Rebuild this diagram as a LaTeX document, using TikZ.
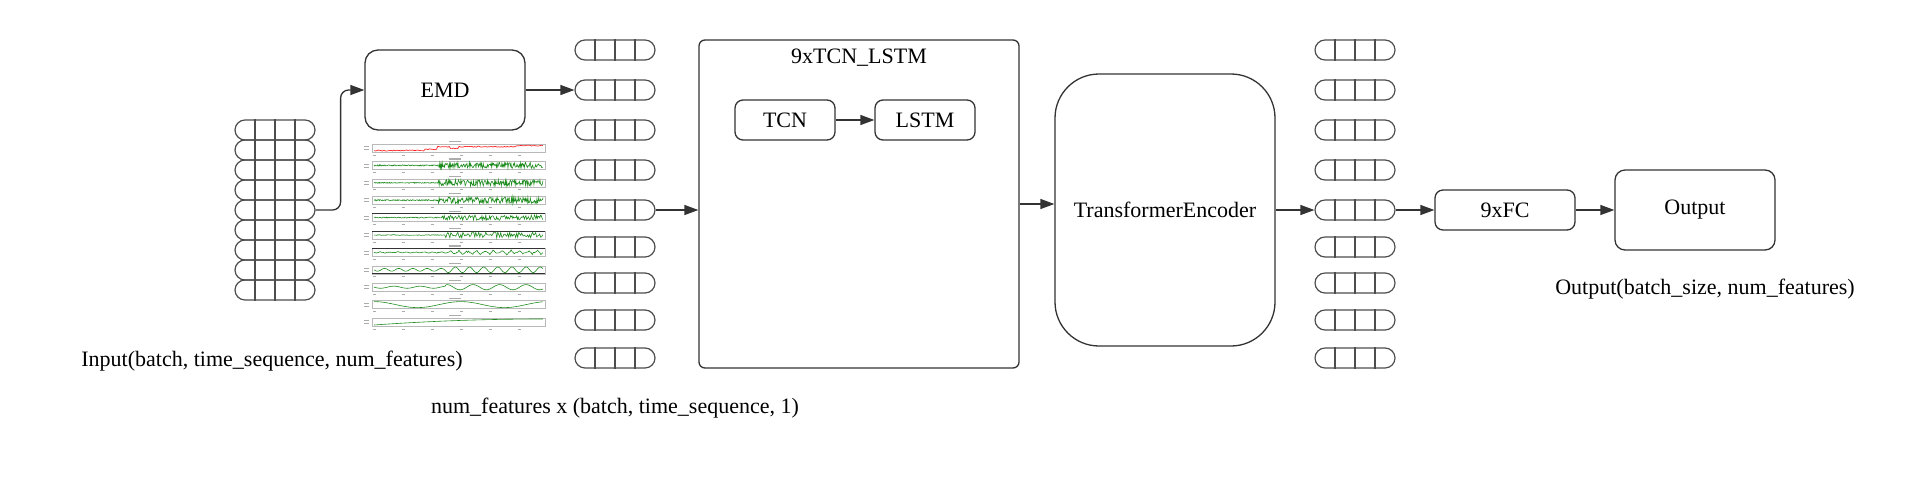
\documentclass[tikz,border=0pt]{standalone}
\usepackage{fontspec}
\setmainfont{Liberation Serif}
\usetikzlibrary{arrows.meta}
\definecolor{linea}{HTML}{333333}
\definecolor{rejilla}{HTML}{4D4D4D}
\definecolor{verde}{HTML}{1E8C1E}
\tikzset{
	caja/.style={draw=linea, line width=0.65pt, rounded corners=#1, inner sep=0pt, align=center},
	caja/.default=4pt,
	celda/.style={draw=rejilla, line width=0.6pt, rounded corners=5pt, minimum width=40pt, minimum height=10pt, inner sep=0pt},
	flecha/.style={draw=linea, line width=0.65pt, -{Triangle[length=7pt,width=5pt]}},
	marco/.style={draw=gray!55, line width=0.3pt},
	borron/.style={draw=gray!65, line width=0.6pt},
	senal/.style={verde, line width=0.3pt}
}
\begin{document}
\begin{tikzpicture}[x=0.5pt, y=-0.5pt, font=\fontsize{11}{13}\selectfont]
		\useasboundingbox (0,0) rectangle (1915,488);
		\pgfmathsetseed{12}
		% pila de entrada
		\foreach \y [count=\i] in {130,150,...,290} {
			\node[celda] (in\i) at (275,\y) {};
			\foreach \d in {-10,0,10}
			\draw[rejilla, line width=0.6pt] ([xshift=\d pt]in\i.north) -- ([xshift=\d pt]in\i.south);
		}
		% pilas intermedia y de salida
		\foreach \y [count=\i] in {50,90,130,170,210,247,283,320,358} {
			\node[celda] (m\i) at (615,\y) {};
			\node[celda] (r\i) at (1355,\y) {};
			\foreach \d in {-10,0,10} {
				\draw[rejilla, line width=0.6pt] ([xshift=\d pt]m\i.north) -- ([xshift=\d pt]m\i.south);
				\draw[rejilla, line width=0.6pt] ([xshift=\d pt]r\i.north) -- ([xshift=\d pt]r\i.south);
			}
		}
		\node[caja=6.5pt, minimum width=80pt, minimum height=40pt] (emd) at (445,90) {EMD};
		\node[caja=3pt, minimum width=160pt, minimum height=164pt] (bloque) at (859,204) {};
		\node (titulo) at (859,58) {9xTCN\_LSTM};
		\node[caja, minimum width=50pt, minimum height=20pt] (tcn) at (785,120) {TCN};
		\node[caja, minimum width=50pt, minimum height=20pt] (lstm) at (925,120) {LSTM};
		\node[caja=22pt, minimum width=110pt, minimum height=136pt] (trans) at (1165,210) {TransformerEncoder};
		\node[caja, minimum width=70pt, minimum height=20pt] (fc) at (1505,210) {9xFC};
		\node[caja=5pt, minimum width=80pt, minimum height=40pt] (salida) at (1695,210) {Output};
		\node (entlbl) at (272,361) {Input(batch, time\_sequence, num\_features)};
		\node (medlbl) at (615,408) {num\_features x (batch, time\_sequence, 1)};
		\node (sallbl) at (1705,289) {Output(batch\_size, num\_features)};
		% conexiones
		\draw[flecha, rounded corners=4pt] (in5.east) -- ++(25,0) |- (emd.west);
		\draw[flecha] (emd.east) -- (m2.west);
		\draw[flecha] (m5.east) -- (m5.east -| bloque.west);
		\draw[flecha] (tcn) -- (lstm);
		\draw[flecha] (bloque.east) -- (bloque.east -| trans.west);
		\draw[flecha] (trans.east) -- (r5.west);
		\draw[flecha] (r5.east) -- (fc.west);
		\draw[flecha] (fc.east) -- (salida.west);
		% graficas EMD
		\foreach \k in {0,...,10} {
			\pgfmathsetmacro\ytop{144+17.4*\k}
			\draw[marco] (372,\ytop) rectangle (545,{\ytop+8});
			\draw[borron] (449,{\ytop-2.5}) -- ++(12,0);
			\draw[borron, line width=0.4pt] (364,{\ytop+2.5}) -- ++(5,0) (364,{\ytop+5.5}) -- ++(5,0);
			\foreach \tx in {374,403,432,461,490,519}
			\draw[borron, line width=0.4pt] (\tx-1.5,{\ytop+11}) -- ++(3,0);
		}
		\draw[linea, line width=0.5pt] (372,213.6) -- (545,213.6); % bordes oscuros
		\draw[linea, line width=0.5pt] (372,231) -- (545,231);
		\draw[linea, line width=0.5pt] (372,248.4) -- (545,248.4);
		\draw[linea, line width=0.5pt] (372,273.8) -- (545,273.8);
		\draw[red!85, line width=0.35pt] plot[domain=0:1, samples=120, variable=\t] ({374+169*\t}, {150.5 - 1.2*(\t>0.3) - 2.6*(\t>0.37) + 1.8*(\t>0.45)*(\t<0.5) - 1.2*(\t>0.84) + 0.5*rand});
		\draw[senal] plot[domain=0:1, samples=280, variable=\t] ({374+169*\t}, {165.4 + 3*(0.2+0.8*(\t>0.38))*rand});
		\draw[senal] plot[domain=0:1, samples=280, variable=\t] ({374+169*\t}, {182.8 + 3.2*(0.15+0.85*(\t>0.38))*rand});
		\draw[senal] plot[domain=0:1, samples=280, variable=\t] ({374+169*\t}, {200.2 + 3.2*(0.2+0.8*(\t>0.38))*rand});
		\draw[senal] plot[domain=0:1, samples=220, variable=\t] ({374+169*\t}, {217.6 + 2.6*(0.2+0.8*(\t>0.4))*rand});
		\draw[senal] plot[domain=0:1, samples=170, variable=\t] ({374+169*\t}, {235 + 3*(0.15+0.85*(\t>0.42))*rand});
		\draw[senal] plot[domain=0:1, samples=160, variable=\t] ({374+169*\t}, {252.4 + 2.6*sin(\t*7000)*(0.3+0.7*(\t>0.45))*(0.5+0.5*rand)});
		\draw[senal] plot[domain=0:1, samples=140, variable=\t] ({374+169*\t}, {269.8 + 2.8*sin(\t*4300)*(0.5+0.5*(\t>0.42))});
		\draw[senal] plot[domain=0:1, samples=120, variable=\t] ({374+169*\t}, {287.2 + 2.6*sin(\t*2300)*(0.4+0.6*(\t>0.42))});
		\draw[senal] plot[domain=0:1, samples=80, variable=\t] ({374+169*\t}, {304.6 - 3*cos(\t*700)});
		\draw[senal] plot[domain=0:1, samples=40, variable=\t] ({374+169*\t}, {325 - 6*(1-(1-\t)^2)});
\end{tikzpicture}
\end{document}
